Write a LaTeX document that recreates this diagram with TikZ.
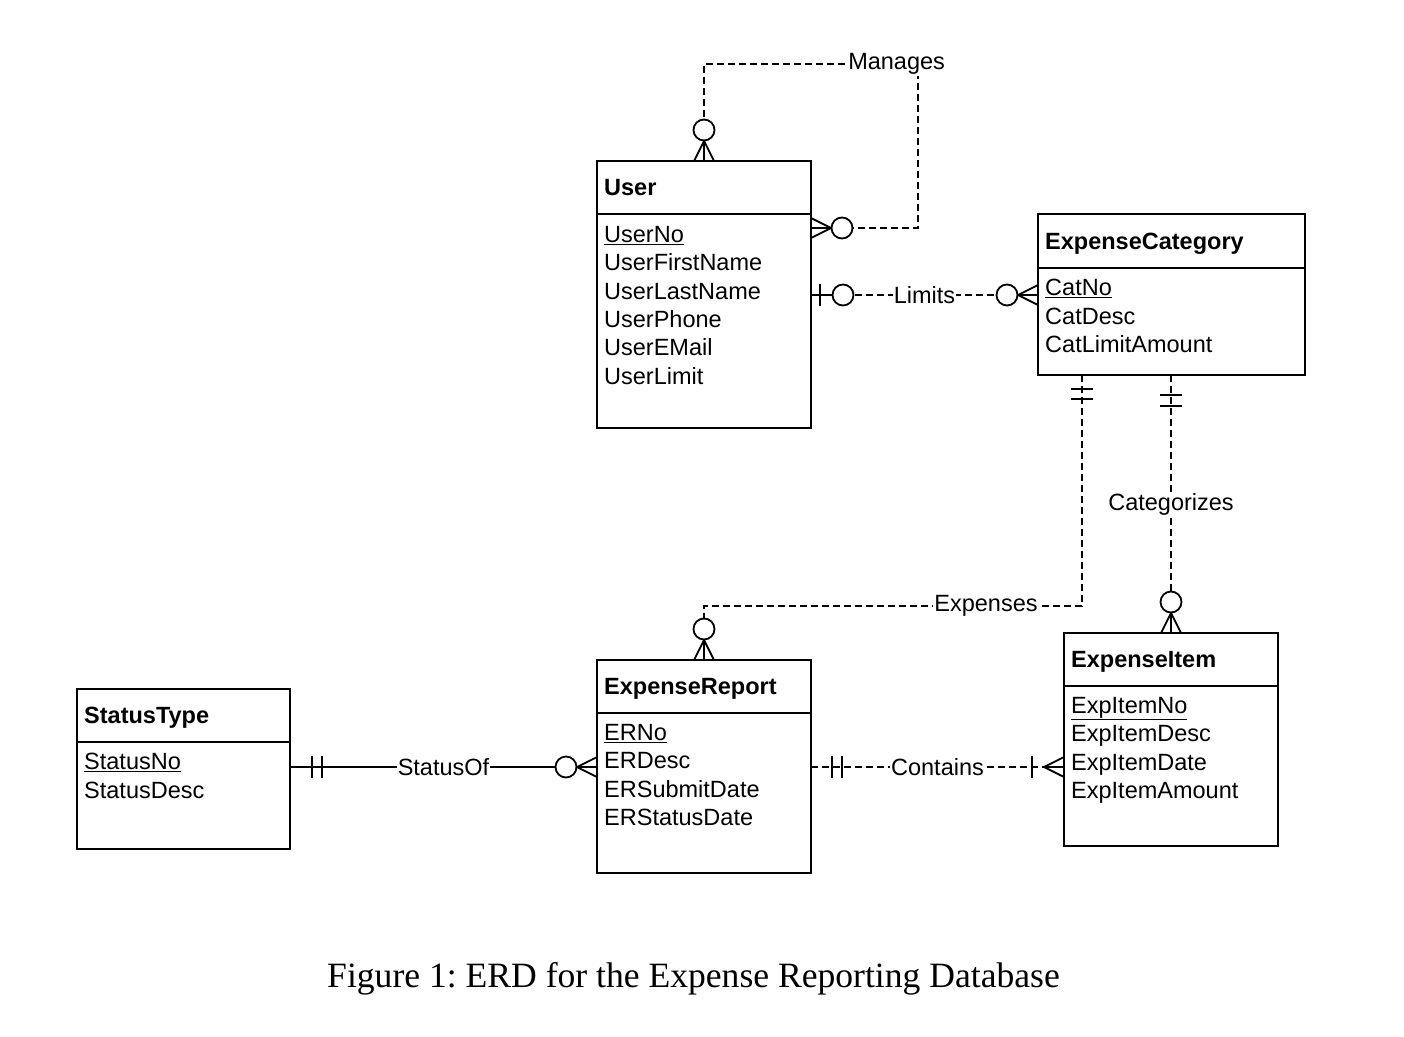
\documentclass[tikz,border=0pt]{standalone}
\usepackage{fontspec}
\setmainfont{Liberation Sans}
\newfontfamily\capfont{Liberation Serif}
\usetikzlibrary{positioning}

% relationship ends, #1 = point on the box, #2 = direction away from the box
\newcommand{\zeromany}[2]{%
  \begin{scope}[shift={(#1)}, rotate=#2, line width=1.8pt, line join=round]
    \draw (0pt,10pt) -- (20pt,0pt) -- (0pt,-10pt) (0pt,0pt) -- (20pt,0pt);
    \draw[fill=white] (31pt,0pt) circle[radius=10.5pt];
  \end{scope}}
\newcommand{\zeroone}[2]{%
  \begin{scope}[shift={(#1)}, rotate=#2, line width=1.8pt]
    \draw (0pt,0pt) -- (21pt,0pt) (9pt,-11pt) -- (9pt,11pt);
    \draw[fill=white] (32pt,0pt) circle[radius=10.5pt];
  \end{scope}}
\newcommand{\onemany}[2]{%
  \begin{scope}[shift={(#1)}, rotate=#2, line width=1.8pt, line join=round]
    \draw (0pt,10pt) -- (20pt,0pt) -- (0pt,-10pt) (0pt,0pt) -- (20pt,0pt);
    \draw (32pt,-11pt) -- (32pt,11pt);
  \end{scope}}
\newcommand{\oneone}[4]{%
  \begin{scope}[shift={(#1)}, rotate=#2, line width=1.8pt]
    \draw (#3pt,-11pt) -- (#3pt,11pt) (#4pt,-11pt) -- (#4pt,11pt);
  \end{scope}}

\begin{document}
\begin{tikzpicture}[%
x=1pt, y=-1pt,
entity/.style={draw, line width=1.8pt, inner sep=0pt, outer sep=0pt, minimum width=214pt},
divider/.style={line width=1.8pt},
etitle/.style={font=\bfseries\fontsize{23.5}{28.4}\selectfont, anchor=base west, inner sep=0pt},
eattr/.style={font=\fontsize{23.5}{28.4}\selectfont, align=left, anchor=north west, inner sep=0pt},
rel/.style={line width=1.8pt, dash pattern=on 7pt off 4pt},
lbl/.style={fill=white, inner sep=1pt, font=\fontsize{23.5}{28.4}\selectfont}
]
\useasboundingbox (0,0) rectangle (1404,1036);

% entities
\node[entity, minimum height=267pt] (user) at (704,294.5) {};
\draw[divider] ([yshift=-53pt]user.north west) -- ([yshift=-53pt]user.north east);
\node[etitle] (usertitle) at ([shift={(7pt,-34pt)}]user.north west) {User};
\node[eattr] (userattr) at ([shift={(7pt,-65pt)}]user.north west)
  {\underline{UserNo}\\UserFirstName\\UserLastName\\UserPhone\\UserEMail\\UserLimit};

\node[entity, minimum width=267pt, minimum height=161pt] (ec) at (1171.5,294.5) {};
\draw[divider] ([yshift=-54pt]ec.north west) -- ([yshift=-54pt]ec.north east);
\node[etitle] (ectitle) at ([shift={(7pt,-35pt)}]ec.north west) {ExpenseCategory};
\node[eattr] (ecattr) at ([shift={(7pt,-65pt)}]ec.north west)
  {\underline{CatNo}\\CatDesc\\CatLimitAmount};

\node[entity, minimum height=213pt] (er) at (704,766.5) {};
\draw[divider] ([yshift=-53pt]er.north west) -- ([yshift=-53pt]er.north east);
\node[etitle] (ertitle) at ([shift={(7pt,-34pt)}]er.north west) {ExpenseReport};
\node[eattr] (erattr) at ([shift={(7pt,-64pt)}]er.north west)
  {\underline{ERNo}\\ERDesc\\ERSubmitDate\\ERStatusDate};

\node[entity, minimum height=213pt] (ei) at (1171,739.5) {};
\draw[divider] ([yshift=-53pt]ei.north west) -- ([yshift=-53pt]ei.north east);
\node[etitle] (eititle) at ([shift={(7pt,-34pt)}]ei.north west) {ExpenseItem};
\node[eattr] (eiattr) at ([shift={(7pt,-64pt)}]ei.north west)
  {\underline{ExpItemNo}\\ExpItemDesc\\ExpItemDate\\ExpItemAmount};

\node[entity, minimum width=213pt, minimum height=160pt] (st) at (183.5,769) {};
\draw[divider] ([yshift=-53pt]st.north west) -- ([yshift=-53pt]st.north east);
\node[etitle] (sttitle) at ([shift={(7pt,-34pt)}]st.north west) {StatusType};
\node[eattr] (stattr) at ([shift={(7pt,-64pt)}]st.north west)
  {\underline{StatusNo}\\StatusDesc};

% relationships
\coordinate (mgcorner) at (918,64);
\draw[rel] (user.north) -- (user.north |- mgcorner)
  -- node[lbl, pos=0.9] (manages) {Manages} (mgcorner)
  |- ([yshift=-67pt]user.north east);
\draw[rel] ([yshift=-134pt]user.north east) -- node[lbl] (limits) {Limits} ([yshift=-81pt]ec.north west);
\coordinate (excorner) at (1082,606);
\draw[rel] (ec.south -| excorner) -- (excorner)
  -- node[lbl, pos=0.254] (expenses) {Expenses} (excorner -| er.north) -- (er.north);
\draw[rel] (ei.north |- ec.south) -- node[lbl] (categorizes) {Categorizes} (ei.north);
\draw[rel] ([yshift=-107pt]er.north east) -- node[lbl] (contains) {Contains} ([yshift=-134pt]ei.north west);
\draw[line width=1.8pt] ([yshift=-78pt]st.north east) -- node[lbl] (statusof) {StatusOf} ([yshift=-107pt]er.north west);

\zeromany{user.north}{90}
\zeromany{[yshift=-67pt]user.north east}{0}
\zeroone{[yshift=-134pt]user.north east}{0}
\zeromany{[yshift=-81pt]ec.north west}{180}
\oneone{ec.south -| excorner}{270}{14}{24}
\zeromany{er.north}{90}
\oneone{ei.north |- ec.south}{270}{20}{31}
\zeromany{ei.north}{90}
\oneone{[yshift=-107pt]er.north east}{0}{21}{31}
\onemany{[yshift=-134pt]ei.north west}{180}
\oneone{[yshift=-78pt]st.north east}{0}{22}{32}
\zeromany{[yshift=-107pt]er.north west}{180}

\node[font=\capfont\fontsize{35.6}{40}\selectfont\frenchspacing, anchor=base] (caption) at (693.5,987)
  {Figure 1: ERD for the Expense Reporting Database};
\end{tikzpicture}
\end{document}
